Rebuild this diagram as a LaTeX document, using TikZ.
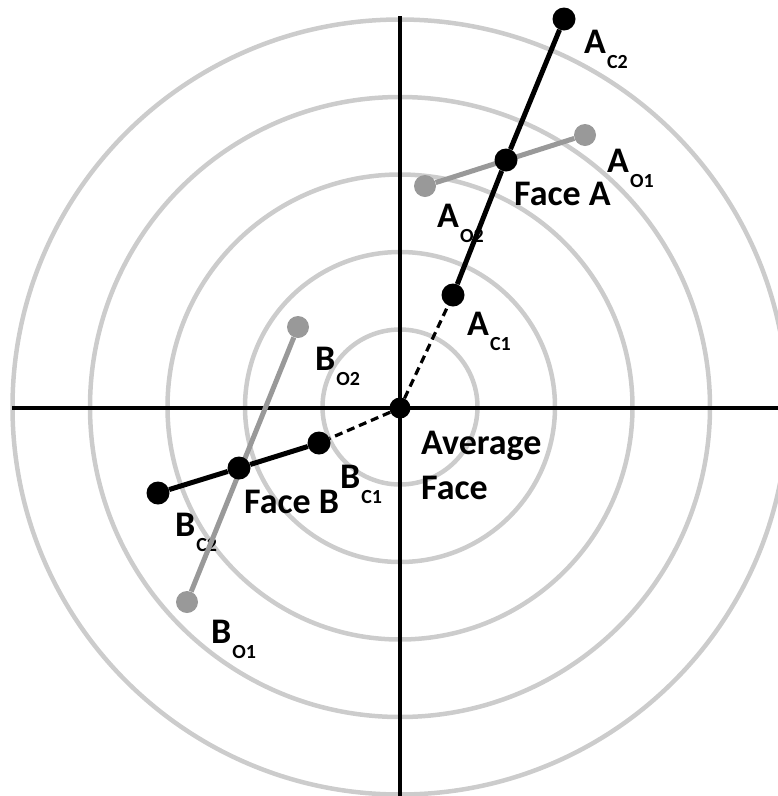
\documentclass[tikz,border=0pt]{standalone}
\usepackage{fontspec}
\setmainfont{Carlito}
\newcommand{\mainsz}{\fontsize{36}{42}\selectfont}
\newcommand{\subsz}{\fontsize{20}{24}\selectfont}
\newcommand{\facelab}[2]{#1\kern1pt\raisebox{-15pt}{\subsz #2}}
\definecolor{ringgray}{HTML}{CCCCCC}
\definecolor{ptgray}{HTML}{999999}
\begin{document}
\begin{tikzpicture}[x=1pt,y=-1pt,
  ring/.style={draw=ringgray,line width=4.5pt},
  axis/.style={draw=black,line width=4pt},
  blackdot/.style={circle,fill=black,inner sep=0pt,minimum size=23pt},
  graydot/.style={circle,fill=ptgray,inner sep=0pt,minimum size=22pt},
  centerdot/.style={circle,fill=black,inner sep=0pt,minimum size=21pt},
  blackline/.style={draw=black,line width=5pt},
  grayline/.style={draw=ptgray,line width=5pt},
  dashline/.style={draw=black,line width=3.2pt,dash pattern=on 8pt off 5pt},
  lbl/.style={anchor=base west,inner sep=0pt,font=\mainsz\bfseries}]
\useasboundingbox (0,0) rectangle (778,796);
% rings
\foreach \r in {77.5,155,232.5,310,387.5}
  \draw[ring] (400,407) circle (\r);
% axes
\coordinate (xl) at (12,408);
\coordinate (xr) at (778,408);
\coordinate (yt) at (400,16);
\coordinate (yb) at (400,796);
\draw[axis] (xl) -- (xr);
\draw[axis] (yt) -- (yb);
% labels
\node[lbl] (lAC2) at (584,53) {\facelab{A}{C2}};
\node[lbl] (lAO1) at (607,172) {\facelab{A}{O1}};
\node[lbl] (lFA) at (514,205) {Face A};
\node[lbl] (lAO2) at (437,227) {\facelab{A}{O2}};
\node[lbl] (lAC1) at (467,335) {\facelab{A}{C1}};
\node[lbl] (lBO2) at (315,370) {\facelab{B}{O2}};
\node[lbl] (lBC1) at (340,488) {\facelab{B}{C1}};
\node[lbl] (lFB) at (244,513) {Face B};
\node[lbl] (lBC2) at (175,536) {\facelab{B}{C2}};
\node[lbl] (lBO1) at (211,643) {\facelab{B}{O1}};
\node[lbl] (lAvg) at (421,454) {Average};
\node[lbl] (lAvg2) at (421,499) {Face};
% points
\node[centerdot] (O) at (400,408) {};
\node[graydot] (AO1) at (585,135) {};
\node[graydot] (AO2) at (425,186) {};
\node[graydot] (BO1) at (187,602) {};
\node[graydot] (BO2) at (298,327) {};
\draw[grayline] (AO2) -- (AO1);
\draw[grayline] (BO2) -- (BO1);
\node[blackdot] (AC1) at (453,295) {};
\node[blackdot] (FA) at (506,160) {};
\node[blackdot] (AC2) at (564,19) {};
\node[blackdot] (BC1) at (319,443) {};
\node[blackdot] (FB) at (239,468) {};
\node[blackdot] (BC2) at (158,493) {};
\draw[blackline] (AC1) -- (FA) -- (AC2);
\draw[blackline] (BC1) -- (FB) -- (BC2);
\draw[dashline] (O) -- (AC1);
\draw[dashline] (O) -- (BC1);
\end{tikzpicture}
\end{document}
